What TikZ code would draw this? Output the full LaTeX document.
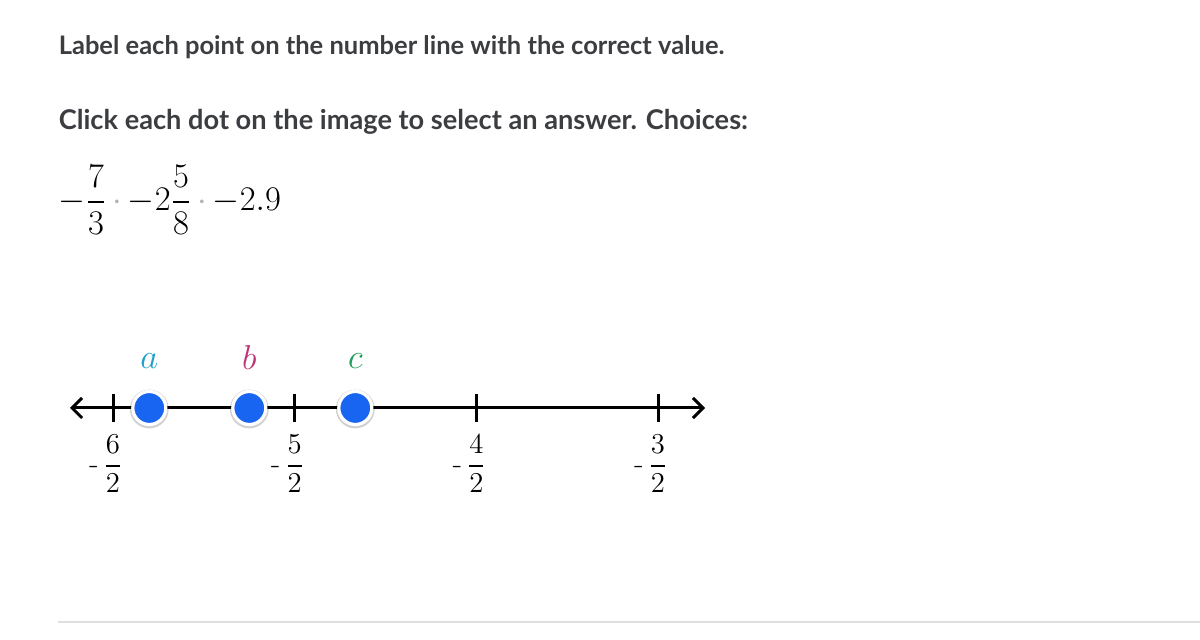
\documentclass[tikz,border=0pt]{standalone}
\usepackage{amsmath}
\usepackage[no-math]{fontspec}
\newfontfamily\lato{Lato}
\usetikzlibrary{arrows.meta}

\definecolor{textgray}{HTML}{3B3D40}
\definecolor{dotblue}{HTML}{1865F2}
\definecolor{labela}{HTML}{1FA0C9}
\definecolor{labelb}{HTML}{BF3375}
\definecolor{labelc}{HTML}{1F9E5A}

\begin{document}
\begin{tikzpicture}[x=0.5pt, y=-0.5pt, thick,
        heading/.style={anchor=base west, inner sep=0pt, text=textgray, font=\lato\bfseries\fontsize{13.6}{16}\selectfont},
        mathtext/.style={inner sep=0pt, font=\fontsize{15}{18}\selectfont},
        dot/.style={circle, inner sep=0pt, minimum size=16.5pt, fill=dotblue, draw=white, line width=1.6pt},
        ticklabel/.style={mathtext, text=black},
        pointlabel/.style={inner sep=0pt, font=\fontsize{17}{20}\selectfont}]
        \useasboundingbox (0, 0) rectangle (1200, 640);

        % QUESTION
        \node[heading, font=\lato\bfseries\fontsize{12.75}{16}\selectfont] (title) at (58, 55) {Label each point on the number line with the correct value.};
        \node[heading] (hint) at (58, 130) {Click each dot on the image to select an answer. Choices:};
        \node[mathtext, anchor=base west, font=\fontsize{16}{19}\selectfont] (choices) at (58, 210.5) {$-\dfrac{7}{3}$\hspace{3pt}{\color{gray!60}$\cdot$}\hspace{3pt}$-2\dfrac{5}{8}$\hspace{3pt}{\color{gray!60}$\cdot$}\hspace{3pt}$-2.9$};

        % NUMBER LINE
        \coordinate (lend) at (70, 408);
        \coordinate (rend) at (705, 408);
        \draw[line width=1.5pt, {Straight Barb[length=5pt, width=10pt]}-{Straight Barb[length=5pt, width=10pt]}] (lend) -- (rend);

        \draw[line width=1.5pt] (113, 394) -- (113, 422);
        \draw[line width=1.5pt] (294.7, 394) -- (294.7, 422);
        \draw[line width=1.5pt] (476.3, 394) -- (476.3, 422);
        \draw[line width=1.5pt] (658, 394) -- (658, 422);
        \node[ticklabel] (t6) at (113, 464) {\llap{-\kern2.5pt}$\dfrac{6}{2}$};
        \node[ticklabel] (t5) at (294.7, 464) {\llap{-\kern2.5pt}$\dfrac{5}{2}$};
        \node[ticklabel] (t4) at (476.3, 464) {\llap{-\kern2.5pt}$\dfrac{4}{2}$};
        \node[ticklabel] (t3) at (658, 464) {\llap{-\kern2.5pt}$\dfrac{3}{2}$};

        % POINTS
        \fill[black, opacity=0.18] (149.3, 409) circle (9.7pt);
        \fill[black, opacity=0.18] (249.3, 409) circle (9.7pt);
        \fill[black, opacity=0.18] (355.3, 409) circle (9.7pt);
        \node[dot] (a) at (149.3, 408) {};
        \node[dot] (b) at (249.3, 408) {};
        \node[dot] (c) at (355.3, 408) {};
        \node[pointlabel, text=labela] (la) at (149.3, 361) {$a$};
        \node[pointlabel, text=labelb] (lb) at (249.3, 358) {$b$};
        \node[pointlabel, text=labelc] (lc) at (355.3, 361) {$c$};

        % RULE
        \draw[gray!25, line width=1pt] (58, 622) -- (1200, 622);
    \end{tikzpicture}
\end{document}
